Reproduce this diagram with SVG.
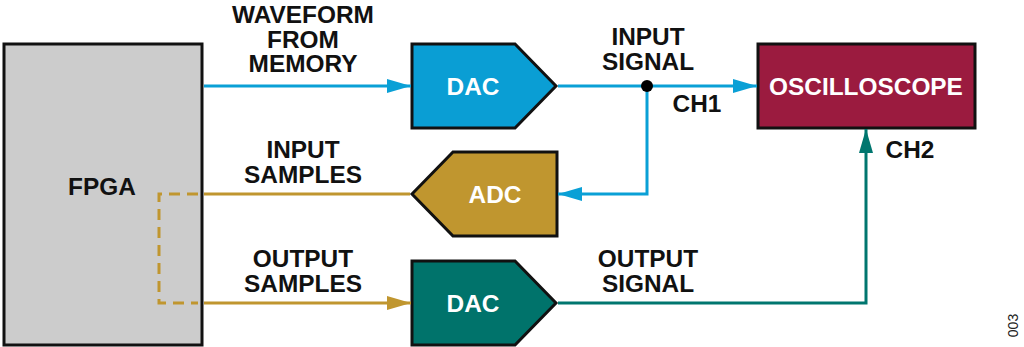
<svg xmlns="http://www.w3.org/2000/svg" width="1024" height="347" viewBox="0 0 1024 347">
<style>
.t{font-family:"Liberation Sans",Arial,sans-serif;font-weight:bold;font-size:24.4px;text-anchor:middle;fill:#111}
.w{fill:#fff}
.box{stroke:#111;stroke-width:3;stroke-linejoin:miter}
.ln{fill:none;stroke-width:3}
</style>
<defs>
<marker id="aB" markerWidth="24" markerHeight="14" refX="24" refY="7" orient="auto" markerUnits="userSpaceOnUse"><path d="M0,0 L24,7 L0,14 Z" fill="#0AA0D6"/></marker>
<marker id="aG" markerWidth="24" markerHeight="14" refX="24" refY="7" orient="auto" markerUnits="userSpaceOnUse"><path d="M0,0 L24,7 L0,14 Z" fill="#C0962F"/></marker>
<marker id="aT" markerWidth="24" markerHeight="14" refX="24" refY="7" orient="auto" markerUnits="userSpaceOnUse"><path d="M0,0 L24,7 L0,14 Z" fill="#00766F"/></marker>
</defs>
<g id="fpga">
<rect class="box" x="4" y="44" width="198" height="301" fill="#CCCCCC" stroke="#222"/>
<text class="t" x="102" y="195">FPGA</text>
</g>
<g id="dac1">
<polygon class="box" points="412,44 515,44 556,86 515,128 412,128" fill="#0A9ED4"/>
<text class="t w" x="473" y="95">DAC</text>
</g>
<g id="adc">
<polygon class="box" points="412,194 453,152 557,152 557,236 453,236" fill="#C0962F"/>
<text class="t w" x="495" y="203">ADC</text>
</g>
<g id="dac2">
<polygon class="box" points="412,261 515,261 556,303 515,345 412,345" fill="#00736B"/>
<text class="t w" x="473" y="312">DAC</text>
</g>
<g id="osc">
<rect class="box" x="758" y="44" width="217" height="84" fill="#9B1B3F"/>
<text class="t w" x="866" y="95">OSCILLOSCOPE</text>
</g>
<g id="connectors">
<line class="ln" x1="204" y1="86" x2="411" y2="86" stroke="#0AA0D6" marker-end="url(#aB)"/>
<line class="ln" x1="558" y1="86" x2="757" y2="86" stroke="#0AA0D6" marker-end="url(#aB)"/>
<polyline class="ln" points="647,86 647,194 558,194" stroke="#0AA0D6" marker-end="url(#aB)"/>
<circle cx="647" cy="86" r="6" fill="#000"/>
<line class="ln" x1="410" y1="194" x2="204" y2="194" stroke="#C0962F"/>
<line class="ln" x1="204" y1="303" x2="411" y2="303" stroke="#C0962F" marker-end="url(#aG)"/>
<polyline class="ln" points="198,194 159,194 159,303 198,303" stroke="#C0962F" stroke-dasharray="11,7"/>
<polyline class="ln" points="558,303 866,303 866,129" stroke="#00766F" marker-end="url(#aT)"/>
</g>
<g id="labels">
<text class="t" x="303" y="23">WAVEFORM</text>
<text class="t" x="303" y="47.5">FROM</text>
<text class="t" x="303" y="72">MEMORY</text>
<text class="t" x="303" y="158">INPUT</text>
<text class="t" x="303" y="182.5">SAMPLES</text>
<text class="t" x="303" y="267">OUTPUT</text>
<text class="t" x="303" y="291.5">SAMPLES</text>
<text class="t" x="648" y="45">INPUT</text>
<text class="t" x="648" y="69.5">SIGNAL</text>
<text class="t" x="697" y="112">CH1</text>
<text class="t" x="910" y="157.5">CH2</text>
<text class="t" x="648" y="267">OUTPUT</text>
<text class="t" x="648" y="291.5">SIGNAL</text>
<text x="1018" y="325.5" transform="rotate(-90 1018 325.5)" style="font-family:'Liberation Sans',Arial,sans-serif;font-size:14px;text-anchor:middle;fill:#222">003</text>
</g>
</svg>
